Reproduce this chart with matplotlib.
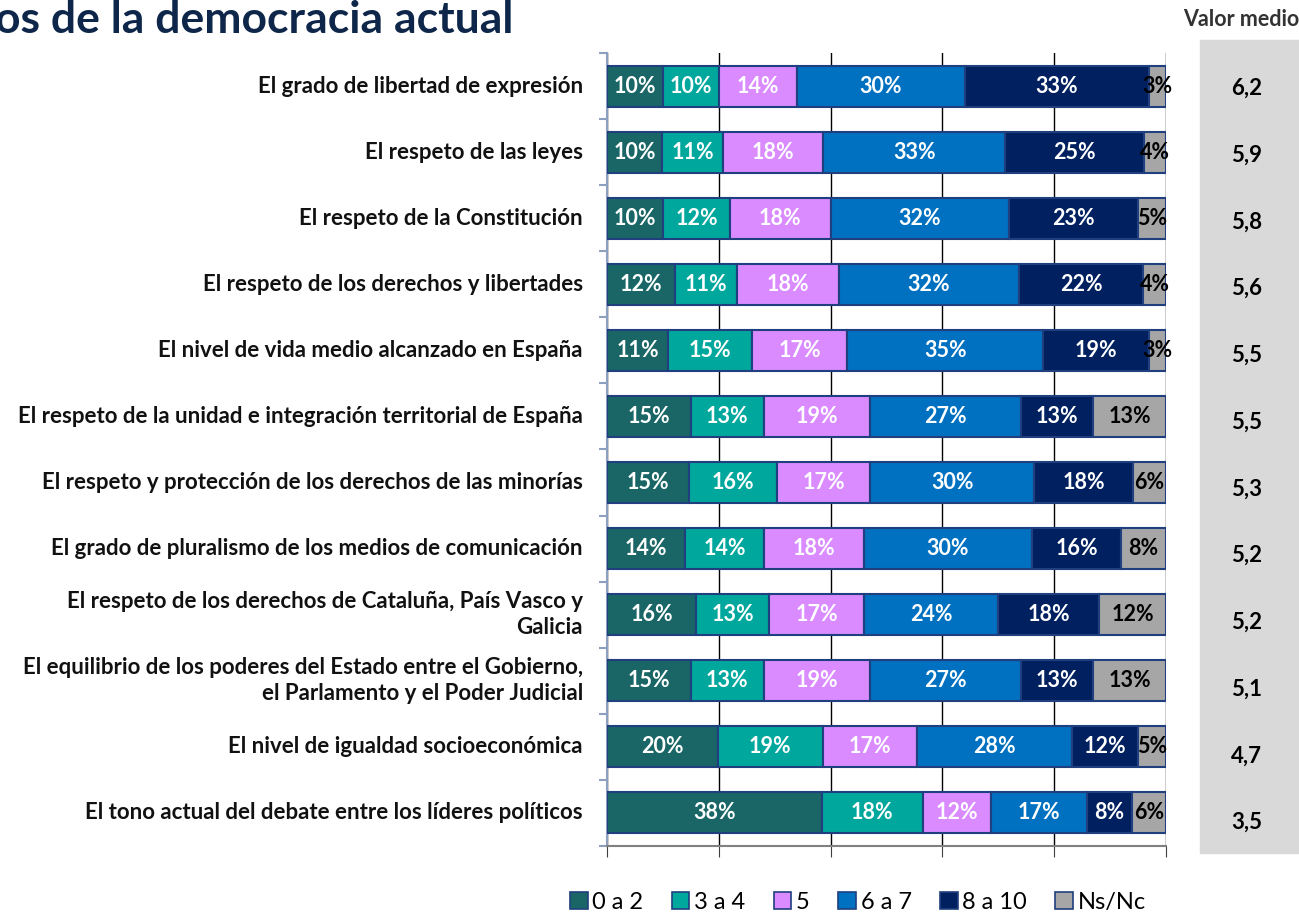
import numpy as np
import matplotlib.pyplot as plt
from matplotlib.patches import Rectangle

plt.rcParams['font.family'] = ['Lato', 'DejaVu Sans']

categorias = [
    'El grado de libertad de expresión',
    'El respeto de las leyes',
    'El respeto de la Constitución',
    'El respeto de los derechos y libertades',
    'El nivel de vida medio alcanzado en España',
    'El respeto de la unidad e integración territorial de España',
    'El respeto y protección de los derechos de las minorías',
    'El grado de pluralismo de los medios de comunicación',
    'El respeto de los derechos de Cataluña, País Vasco y\nGalicia',
    'El equilibrio de los poderes del Estado entre el Gobierno,\nel Parlamento y el Poder Judicial',
    'El nivel de igualdad socioeconómica',
    'El tono actual del debate entre los líderes políticos',
]
series = ['0 a 2', '3 a 4', '5', '6 a 7', '8 a 10', 'Ns/Nc']
v0a2 = [10, 10, 10, 12, 11, 15, 15, 14, 16, 15, 20, 38]
v3a4 = [10, 11, 12, 11, 15, 13, 16, 14, 13, 13, 19, 18]
v5 = [14, 18, 18, 18, 17, 19, 17, 18, 17, 19, 17, 12]
v6a7 = [30, 33, 32, 32, 35, 27, 30, 30, 24, 27, 28, 17]
v8a10 = [33, 25, 23, 22, 19, 13, 18, 16, 18, 13, 12, 8]
nsnc = [3, 4, 5, 4, 3, 13, 6, 8, 12, 13, 5, 6]
valor_medio = ['6,2', '5,9', '5,8', '5,6', '5,5', '5,5', '5,3', '5,2', '5,2', '5,1', '4,7', '3,5']

colores = ['#1A6666', '#00A79D', '#D98BFF', '#0070C0', '#002060', '#A6A6A6']
color_texto = ['white', 'white', 'white', 'white', 'white', 'black']

datos = np.array([v0a2, v3a4, v5, v6a7, v8a10, nsnc], dtype=float)
pct = datos / datos.sum(axis=0) * 100

W, H = 1299, 913
fig = plt.figure(figsize=(W / 100, H / 100), dpi=100)

# panel gris del valor medio
fig.patches.append(Rectangle((1200 / W, 1 - 853 / H), 99 / W, 813 / H,
                             transform=fig.transFigure, color='#D9D9D9', zorder=-5))

ax = fig.add_axes([607 / W, 1 - 846 / H, 559 / W, 793 / H])
n = len(categorias)
y = np.arange(n)
izq = np.zeros(n)
for i, s in enumerate(series):
    ax.barh(y, pct[i], left=izq, height=0.62, color=colores[i],
            edgecolor='#1F3F7F', linewidth=1.5, label=s, zorder=3)
    for j in range(n):
        ax.text(izq[j] + pct[i][j] / 2, y[j], f'{int(datos[i][j])}%',
                ha='center', va='center', color=color_texto[i],
                fontsize=15.5, fontweight='bold', zorder=4)
    izq += pct[i]

ax.set_xlim(0, 100)
ax.set_ylim(n - 0.5, -0.5)
ax.set_xticks([0, 20, 40, 60, 80, 100])
ax.set_xticklabels([])
ax.tick_params(axis='x', length=8, color='#404040', direction='out')
ax.grid(axis='x', color='black', linewidth=1, zorder=0)
ax.set_yticks(np.arange(n + 1) - 0.5, minor=False)
ax.set_yticklabels([])
ax.tick_params(axis='y', length=6, color='#8EA0C0', width=1.5)
for j, c in enumerate(categorias):
    ax.text(-4.3, y[j], c, ha='right', va='center', fontsize=16,
            fontweight='bold', color='#111111', linespacing=1.3)
for sp in ['top', 'right']:
    ax.spines[sp].set_visible(False)
ax.spines['left'].set_color('#8EA0C0')
ax.spines['left'].set_linewidth(1.5)
ax.spines['bottom'].set_color('#808080')
ax.spines['bottom'].set_linewidth(1.5)

# columna de valores medios
ax2 = fig.add_axes([1200 / W, 1 - 856 / H, 99 / W, 801 / H])
ax2.set_ylim(n - 0.5, -0.5)
ax2.set_xlim(0, 1)
ax2.axis('off')
for j, v in enumerate(valor_medio):
    ax2.text(0.47, y[j], v, ha='center', va='center', fontsize=16,
             fontweight='bold', color='black')

fig.text(1241 / W, 1 - 20 / H, 'Valor medio', ha='center', va='center',
         fontsize=15.5, fontweight='bold', color='#333333')
fig.text(-0.004, 1 - 20 / H, 'os de la democracia actual', ha='left', va='center',
         fontsize=32, fontweight='bold', color='#0D2649')

leg = ax.legend(loc='center', bbox_to_anchor=(858 / W, 1 - 902 / H),
                bbox_transform=fig.transFigure, ncol=6, frameon=False,
                fontsize=17, handlelength=0.75, handleheight=0.75,
                handletextpad=0.2, columnspacing=1.2, borderpad=0)
for h in leg.legend_handles:
    h.set_linewidth(1.2)

fig.savefig('out.png', dpi=100)
